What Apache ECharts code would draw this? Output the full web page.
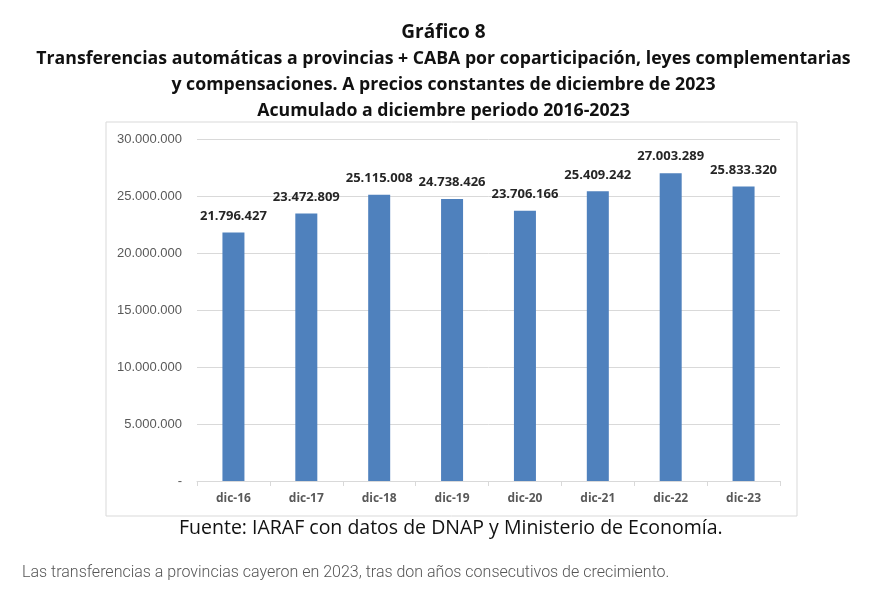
<!DOCTYPE html>
<html><head><meta charset="utf-8">
<script src="https://cdn.jsdelivr.net/npm/echarts@6/dist/echarts.min.js"></script>
<style>html,body{margin:0;padding:0;background:#fff}#c{width:887px;height:606px}</style>
</head><body><div id="c"></div>
<script>
const categories = ['dic-16','dic-17','dic-18','dic-19','dic-20','dic-21','dic-22','dic-23'];
const values = [21796427, 23472809, 25115008, 24738426, 23706166, 25409242, 27003289, 25833320];
const titleLines = [
  'Gráfico 8',
  'Transferencias automáticas a provincias + CABA por coparticipación, leyes complementarias',
  'y compensaciones. A precios constantes de diciembre de 2023',
  'Acumulado a diciembre periodo 2016-2023'
];
const sourceText = 'Fuente: IARAF con datos de DNAP y Ministerio de Economía.';
const captionText = 'Las transferencias a provincias cayeron en 2023, tras don años consecutivos de crecimiento.';

function fmt(v){ return v === 0 ? '-' : String(Math.round(v)).replace(/\B(?=(\d{3})+(?!\d))/g, '.'); }

const chart = echarts.init(document.getElementById('c'));
const titleFont = {fontFamily:'Open Sans', fontWeight:'bold', fontSize:17.7, color:'#111'};
chart.setOption({
  animation:false,
  title: titleLines.map((t,i)=>({text:t, left:'center', top: (i===0?23:50 + (i-1)*26),
    textStyle: i===0 ? Object.assign({}, titleFont, {fontSize:19}) : titleFont, padding:0})),
  graphic: [
    {type:'rect', shape:{x:106,y:122,width:691,height:394}, style:{fill:'#fff', stroke:'#d9d9d9', lineWidth:1}, z:-1},
    {type:'text', left:179, top:518, style:{text:sourceText, font:'19.5px "Open Sans"', fill:'#111'}},
    {type:'text', left:22, top:565, style:{text:captionText, font:'300 16px Roboto', fill:'#555'}}
  ],
  grid:{left:197, right:107, top:139, bottom:125},
  xAxis:{type:'category', data:categories,
    axisLine:{lineStyle:{color:'#d9d9d9'}},
    axisTick:{show:true, length:5, lineStyle:{color:'#d9d9d9'}},
    axisLabel:{color:'#595959', fontWeight:'bold', fontSize:12, fontFamily:'Open Sans', margin:12}},
  yAxis:{type:'value', min:0, max:30000000, interval:5000000,
    axisLine:{show:false}, axisTick:{show:false},
    splitLine:{lineStyle:{color:'#d9d9d9'}},
    axisLabel:{formatter:fmt, color:'#595959', fontSize:13, fontFamily:'Liberation Sans', margin:15}},
  series:[{type:'bar', data:values, barWidth:22,
    itemStyle:{color:'#4f81bd'},
    label:{show:true, position:'top', distance:10, formatter:p=>fmt(p.value),
      color:'#262626', fontWeight:'bold', fontSize:13, fontFamily:'Open Sans'}}]
});
</script></body></html>
